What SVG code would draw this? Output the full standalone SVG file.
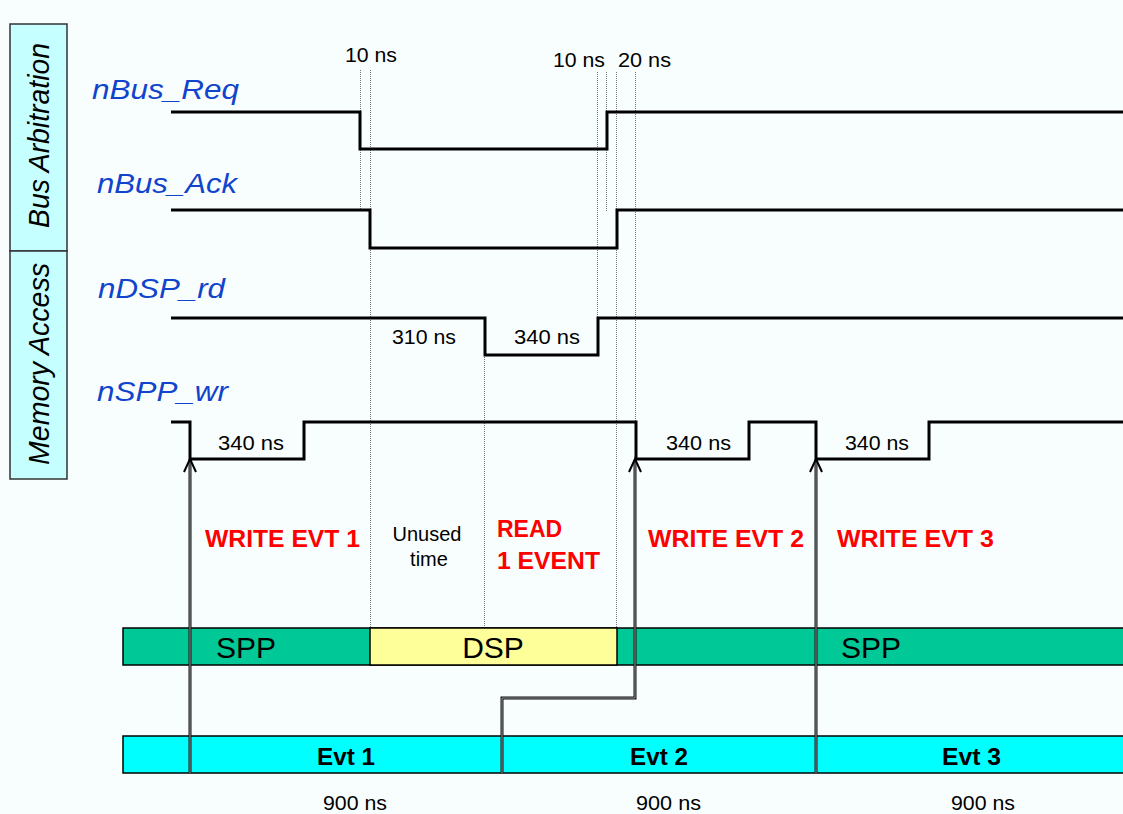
<svg xmlns="http://www.w3.org/2000/svg" width="1123" height="814" viewBox="0 0 1123 814">
<style>
text{font-family:"Liberation Sans",Arial,sans-serif}
.sig{font-style:italic;font-size:28px;fill:#1144cc}
.side{font-style:italic;font-size:30px;fill:#000}
.ns{font-size:20px;fill:#000}
.red{font-size:23px;font-weight:bold;fill:#ff0000}
.wave{fill:none;stroke:#000;stroke-width:3}
.dot{stroke:#777;stroke-width:1;stroke-dasharray:1 1;fill:none}
.bar{font-size:30px;fill:#000;text-anchor:middle}
.evt{font-size:23px;font-weight:bold;fill:#000}
.shaft{fill:none;stroke:#111;stroke-width:3}
.shaftin{fill:none;stroke:#999;stroke-width:1}
.head{fill:none;stroke:#000;stroke-width:2}
</style>
<rect x="0" y="0" width="1123" height="814" fill="#f8fefe"/>
<g id="side-labels">
<rect x="10" y="24" width="57" height="227" fill="#c6ffff" stroke="#333" stroke-width="1.5"/>
<rect x="10" y="251" width="57" height="228" fill="#c6ffff" stroke="#333" stroke-width="1.5"/>
<text class="side" transform="translate(49,228) rotate(-90)" textLength="185" lengthAdjust="spacingAndGlyphs">Bus Arbitration</text>
<text class="side" transform="translate(49,465) rotate(-90)" textLength="202" lengthAdjust="spacingAndGlyphs">Memory Access</text>
</g>
<g id="guides">
<line class="dot" x1="360.5" y1="70" x2="360.5" y2="211"/>
<line class="dot" x1="370.5" y1="70" x2="370.5" y2="628"/>
<line class="dot" x1="484.5" y1="355" x2="484.5" y2="628"/>
<line class="dot" x1="597.5" y1="72" x2="597.5" y2="318"/>
<line class="dot" x1="606.5" y1="72" x2="606.5" y2="211"/>
<line class="dot" x1="616.5" y1="72" x2="616.5" y2="628"/>
<line class="dot" x1="635.5" y1="72" x2="635.5" y2="422"/>
</g>
<g id="nBus_Req">
<text class="sig" x="92" y="99" textLength="147" lengthAdjust="spacingAndGlyphs">nBus_Req</text>
<path class="wave" d="M171,112 H360 V149 H607 V112 H1123"/>
</g>
<g id="nBus_Ack">
<text class="sig" x="97" y="193" textLength="140" lengthAdjust="spacingAndGlyphs">nBus_Ack</text>
<path class="wave" d="M171,210 H370 V248 H617 V210 H1123"/>
</g>
<g id="nDSP_rd">
<text class="sig" x="98" y="298" textLength="127" lengthAdjust="spacingAndGlyphs">nDSP_rd</text>
<path class="wave" d="M171,318 H485 V355 H598 V318 H1123"/>
</g>
<g id="nSPP_wr">
<text class="sig" x="97" y="401" textLength="131" lengthAdjust="spacingAndGlyphs">nSPP_wr</text>
<path class="wave" d="M171,422 H190 V459 H304 V422 H636 V459 H749 V422 H816 V459 H929 V422 H1123"/>
</g>
<g id="timing-labels">
<text class="ns" x="345" y="62" textLength="52" lengthAdjust="spacingAndGlyphs">10 ns</text>
<text class="ns" x="553" y="67" textLength="52" lengthAdjust="spacingAndGlyphs">10 ns</text>
<text class="ns" x="618" y="67" textLength="53" lengthAdjust="spacingAndGlyphs">20 ns</text>
<text class="ns" x="392" y="344" textLength="64" lengthAdjust="spacingAndGlyphs">310 ns</text>
<text class="ns" x="514" y="344" textLength="66" lengthAdjust="spacingAndGlyphs">340 ns</text>
<text class="ns" x="218" y="450" textLength="66" lengthAdjust="spacingAndGlyphs">340 ns</text>
<text class="ns" x="666" y="450" textLength="65" lengthAdjust="spacingAndGlyphs">340 ns</text>
<text class="ns" x="845" y="450" textLength="64" lengthAdjust="spacingAndGlyphs">340 ns</text>
</g>
<g id="phase-labels">
<text class="red" x="205" y="547" textLength="155" lengthAdjust="spacingAndGlyphs">WRITE EVT 1</text>
<text class="ns" x="427" y="541" text-anchor="middle" font-size="21">Unused</text>
<text class="ns" x="429" y="566" text-anchor="middle" font-size="21">time</text>
<text class="red" x="497" y="537">READ</text>
<text class="red" x="497" y="569" textLength="103" lengthAdjust="spacingAndGlyphs">1 EVENT</text>
<text class="red" x="648" y="547" textLength="156" lengthAdjust="spacingAndGlyphs">WRITE EVT 2</text>
<text class="red" x="837" y="547" textLength="157" lengthAdjust="spacingAndGlyphs">WRITE EVT 3</text>
</g>
<g id="owner-bar">
<rect x="123" y="628" width="1010" height="37" fill="#00c896" stroke="#000" stroke-width="1.5"/>
<rect x="370" y="628" width="247" height="37" fill="#ffff99" stroke="#000" stroke-width="1.5"/>
<text class="bar" x="246" y="658">SPP</text>
<text class="bar" x="493" y="658">DSP</text>
<text class="bar" x="871" y="658">SPP</text>
</g>
<g id="event-bar">
<rect x="123" y="736" width="1010" height="37" fill="#00ffff" stroke="#000" stroke-width="1.5"/>
<line x1="502" y1="736" x2="502" y2="773" stroke="#000" stroke-width="1.5"/>
<line x1="816" y1="736" x2="816" y2="773" stroke="#000" stroke-width="1.5"/>
<text class="evt" x="317" y="765" textLength="58" lengthAdjust="spacingAndGlyphs">Evt 1</text>
<text class="evt" x="630" y="765" textLength="58" lengthAdjust="spacingAndGlyphs">Evt 2</text>
<text class="evt" x="942" y="765" textLength="59" lengthAdjust="spacingAndGlyphs">Evt 3</text>
<text class="ns" x="323" y="810" textLength="64" lengthAdjust="spacingAndGlyphs">900 ns</text>
<text class="ns" x="636" y="810" textLength="65" lengthAdjust="spacingAndGlyphs">900 ns</text>
<text class="ns" x="951" y="810" textLength="64" lengthAdjust="spacingAndGlyphs">900 ns</text>
</g>
<g id="connectors">
<path class="shaft" d="M190,773 V460"/>
<path class="shaftin" d="M190,773 V460"/>
<path class="head" d="M184,472 L190,459 L196,472"/>
<path class="shaft" d="M502,773 V698 H635 V460"/>
<path class="shaftin" d="M502,773 V698 H635 V460"/>
<path class="head" d="M629,472 L635,459 L641,472"/>
<path class="shaft" d="M816,773 V460"/>
<path class="shaftin" d="M816,773 V460"/>
<path class="head" d="M810,472 L816,459 L822,472"/>
</g>
</svg>
